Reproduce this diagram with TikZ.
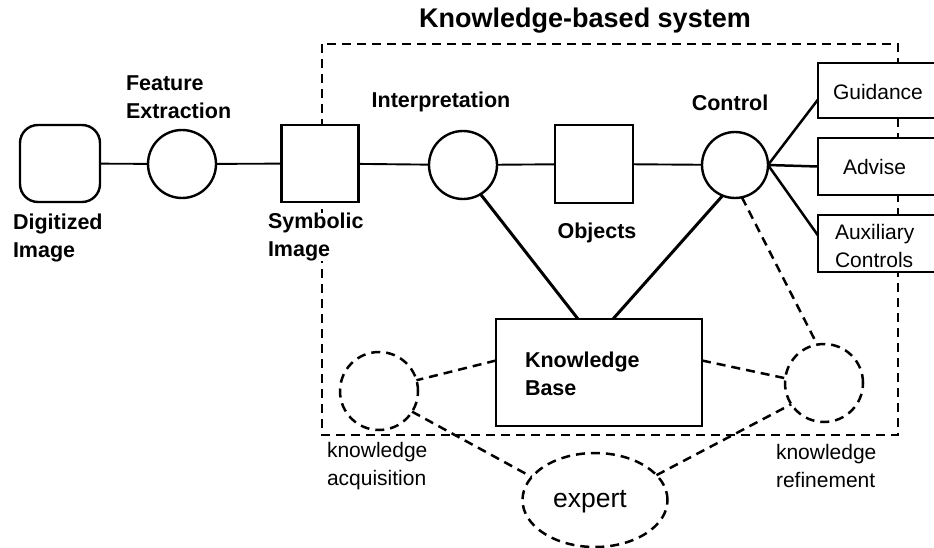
\documentclass[tikz,border=0pt]{standalone}
\usepackage{fontspec}
\setmainfont{Liberation Sans}
\usetikzlibrary{shapes.geometric,backgrounds}

\begin{document}
\begin{tikzpicture}[x=1pt, y=-1pt,
	every node/.style={inner sep=0pt, outer sep=0pt},
	lbl/.style={font=\fontsize{21.5}{28}\selectfont\bfseries, align=left},
	txt/.style={font=\fontsize{21}{28}\selectfont, align=left},
	proc/.style={circle, draw, line width=2.4pt, fill=white, minimum size=68pt},
	store/.style={rectangle, draw, line width=2.4pt, fill=white, minimum width=77pt, minimum height=77pt},
	outbox/.style={rectangle, draw, line width=2.4pt, fill=white, minimum width=122pt, minimum height=56pt},
	dashline/.style={line width=2.5pt, dash pattern=on 9pt off 6pt},
	link/.style={line width=1.9pt},
	tie/.style={line width=3pt}]
		\useasboundingbox (0,0) rectangle (934,548);
		
		% Draw the processing chain
		\node[rectangle, draw, line width=2.4pt, rounded corners=18pt, minimum width=80pt, minimum height=77pt] (digi) at (60,163.5) {};
		\node[proc] (feat) at (182,164) {};
		\node[store] (symb) at (320,163.5) {};
		\node[proc] (interp) at (463,165) {};
		\node[store, minimum width=78pt, minimum height=78pt] (obj) at (594,164) {};
		\node[proc, minimum size=66pt] (ctrl) at (735,165) {};
		
		% Draw the output boxes
		\node[outbox, minimum height=55pt] (guid) at (879,90.5) {};
		\node[outbox, minimum height=57pt] (advi) at (879,166.5) {};
		\node[outbox, minimum height=57pt] (auxi) at (879,243.5) {};
		\node[txt, anchor=west] (guidtext) at (833,92) {Guidance};
		\node[txt, anchor=west] (advitext) at (843,167) {Advise};
		\node[txt, anchor=west] (auxitext) at (835,246) {Auxiliary\\Controls};
		
		% Draw the knowledge base and the outside parts
		\node[rectangle, draw, line width=2.4pt, fill=white, minimum width=206pt, minimum height=107pt] (kb) at (599,372.5) {};
		\node[circle, draw, dashline, minimum size=78pt] (acq) at (379,391) {};
		\node[circle, draw, dashline, minimum size=78pt] (refi) at (824,383) {};
		\node[ellipse, draw, dashline, minimum width=145pt, minimum height=94pt] (expert) at (595,500) {};
		
		% Add the labels
		\node[lbl, font=\fontsize{27}{30}\selectfont\bfseries] (title) at (585,21) {Knowledge-based system};
		\node[lbl, anchor=west] (featlbl) at (126,97) {Feature\\Extraction};
		\node[lbl, anchor=west] (digilbl) at (13,238) {Digitized\\Image};
		\node[lbl, anchor=west, fill=white] (symblbl) at (268,237) {Symbolic\\Image};
		\node[lbl] (interplbl) at (441,102) {Interpretation};
		\node[lbl] (ctrllbl) at (730,103) {Control};
		\node[lbl] (objlbl) at (597,233) {Objects};
		\node[lbl, anchor=west] (kblbl) at (525,374) {Knowledge\\Base};
		\node[txt, anchor=west] (acqlbl) at (327,466) {knowledge\\acquisition};
		\node[txt, anchor=west] (refilbl) at (776,466) {knowledge\\refinement};
		\node[txt, font=\fontsize{26.5}{30}\selectfont] (explbl) at (590,502) {expert};
		
		% Draw the system border behind everything
		\begin{scope}[on background layer]
			\draw[dashline] (322,44) rectangle (898,435);
		\end{scope}
		
		% Draw the connectors
		\draw[link] (digi) -- (feat);
		\draw[link] (feat) -- (symb);
		\draw[link] (symb) -- (interp);
		\draw[link] (interp) -- (obj);
		\draw[link] (obj) -- (ctrl);
		\draw[tie] (interp.-59) -- ([xshift=-21pt]kb.north);
		\draw[tie] (ctrl.248) -- ([xshift=14pt]kb.north);
		\draw[line width=2.5pt] (ctrl.east) -- ([yshift=-9pt]guid.west);
		\draw[line width=2.5pt] (ctrl.east) -- (advi.west);
		\draw[line width=2.5pt] (ctrl.east) -- ([yshift=8pt]auxi.west);
		
		% Draw the dashed ties
		\draw[dashline] (ctrl.-78) -- (refi.100);
		\draw[dashline] ([yshift=12pt]kb.west) -- (acq.16);
		\draw[dashline] ([yshift=12pt]kb.east) -- (refi.173);
		\draw[dashline] (acq.-32) -- (expert.160);
		\draw[dashline] (expert.22) -- (refi.213);
		
	\end{tikzpicture}
\end{document}
